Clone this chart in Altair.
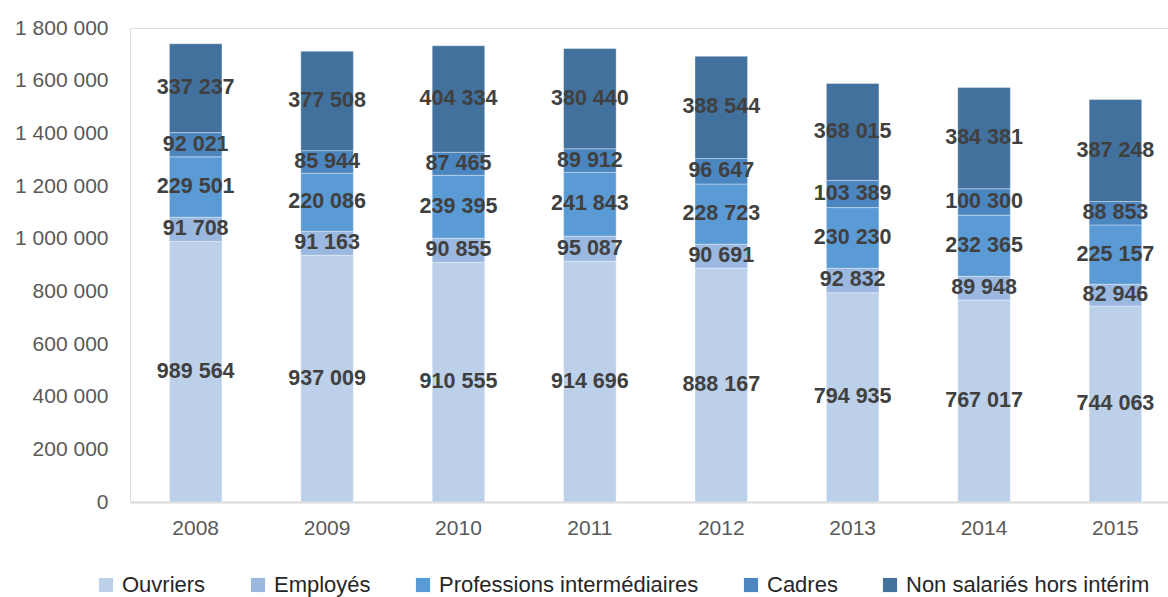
import altair as alt
import pandas as pd

years = ["2008", "2009", "2010", "2011", "2012", "2013", "2014", "2015"]
categories = ["Ouvriers", "Employés", "Professions intermédiaires", "Cadres", "Non salariés hors intérim"]
ouvriers = [989564, 937009, 910555, 914696, 888167, 794935, 767017, 744063]
employes = [91708, 91163, 90855, 95087, 90691, 92832, 89948, 82946]
professions = [229501, 220086, 239395, 241843, 228723, 230230, 232365, 225157]
cadres = [92021, 85944, 87465, 89912, 96647, 103389, 100300, 88853]
non_salaries = [337237, 377508, 404334, 380440, 388544, 368015, 384381, 387248]
colors = ["#BDD0EA", "#9BB8E0", "#5B9BD5", "#4C86C0", "#41719C"]

series = [ouvriers, employes, professions, cadres, non_salaries]
rows = []
for ci, (cat, vals) in enumerate(zip(categories, series)):
    for y, v in zip(years, vals):
        rows.append({"year": y, "category": cat, "order": ci, "value": v,
                     "label": f"{v:,}".replace(",", " ")})
df = pd.DataFrame(rows)

FONT = "Liberation Sans"

base = alt.Chart(df).transform_stack(
    stack="value", groupby=["year"], as_=["v0", "v1"],
    sort=[alt.SortField("order", order="ascending")]
).transform_calculate(mid="(datum.v0 + datum.v1) / 2")

xenc = alt.X("year:N", title=None, sort=years,
             scale=alt.Scale(paddingInner=0.6, paddingOuter=0.25, align=0.6),
             axis=alt.Axis(labelAngle=0, ticks=False, domainColor="#D9D9D9", domainWidth=2,
                           labelFont=FONT, labelFontSize=21, labelColor="#595959",
                           labelPadding=15))

bars = base.mark_bar(stroke="white", strokeWidth=0.6, strokeOpacity=0.6).encode(
    x=xenc,
    y=alt.Y("v0:Q", title=None,
            scale=alt.Scale(domain=[0, 1800000], nice=False),
            axis=alt.Axis(values=list(range(0, 1800001, 200000)), format=",d",
                          grid=False, ticks=False, domain=False,
                          labelFont=FONT, labelFontSize=21, labelColor="#595959",
                          labelPadding=22)),
    y2="v1:Q",
    color=alt.Color("category:N", sort=categories,
                    scale=alt.Scale(domain=categories, range=colors),
                    legend=alt.Legend(title=None, orient="none", direction="horizontal",
                                      legendX=-35, legendY=546,
                                      symbolType="square", symbolSize=200,
                                      symbolStrokeWidth=0, symbolOpacity=1,
                                      labelFont=FONT, labelFontSize=22, labelColor="#262626",
                                      labelLimit=0,
                                      labelOffset=5, columnPadding=41)),
    order=alt.Order("order:Q"),
)

labels = base.mark_text(font=FONT, fontSize=21.5, fontWeight="bold", color="#404040",
                        baseline="middle", align="center").encode(
    x=alt.X("year:N", sort=years),
    y=alt.Y("mid:Q"),
    text="label:N",
)

chart = alt.layer(bars, labels).properties(
    width=1038, height=474,
    autosize="none",
    padding={"left": 130, "top": 28, "right": 0, "bottom": 95},
).configure_view(stroke=None).configure(
    locale={"number": {"decimal": ",", "thousands": " ", "grouping": [3], "currency": ["", " €"]}}
)

chart.save("out.html", embed_options={"renderer": "svg", "actions": False})
